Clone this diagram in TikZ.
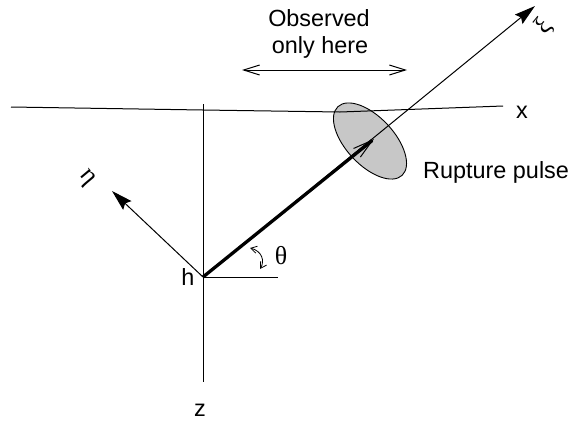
\documentclass[tikz,border=0pt]{standalone}
\usepackage{fontspec}
\setmainfont{Liberation Sans}
\newfontfamily\grk{Liberation Serif}
\usetikzlibrary{arrows.meta}
\tikzset{
  thinline/.style={line width=1bp, draw=black},
  axisarrow/.style={thinline, -{Stealth[length=21bp,width=12bp,inset=3bp]}},
  barbarrows/.style={thinline, {Straight Barb[length=16bp,width=10bp]}-{Straight Barb[length=16bp,width=10bp]}},
  label/.style={font=\fontsize{23.5}{28}\selectfont, inner sep=0pt},
  glabel/.style={font=\fontsize{26}{30}\grk\selectfont, inner sep=0pt},
  pulse/.style={draw=black, line width=0.9bp, fill=black!22},
}
\begin{document}
\begin{tikzpicture}[x=1bp,y=-1bp]
\useasboundingbox (0,0) rectangle (572,424);
% key points
\coordinate (h) at (203,277);
\coordinate (xitip) at (535,6);
\coordinate (etatip) at (112,191);
\coordinate (pulsetip) at (374,139);
\coordinate (ztop) at (203,104);
\coordinate (zbot) at (203,382);
\coordinate (thref) at (278,277);
\coordinate (sL) at (11,107);
\coordinate (sM1) at (203,110);
\coordinate (sM2) at (340,112);
\coordinate (sR) at (503,106);
\coordinate (obsL) at (242,70);
\coordinate (obsR) at (407,70);
\coordinate (thA) at (250,248);
\coordinate (thB) at (260,269);
\coordinate (ellc) at (370,141);
% rupture pulse ellipse
\path[pulse] (ellc) ellipse [x radius=47, y radius=24, rotate=-47];
% surface line
\draw[thinline] (sL) -- (sM1) -- (sM2) -- (sR);
% vertical z axis
\draw[thinline] (ztop) -- (zbot);
% horizontal reference from h
\draw[thinline] (h) -- (thref);
% xi axis
\draw[axisarrow] (h) -- (xitip);
% eta axis
\draw[axisarrow] (h) -- (etatip);
% thick rupture direction
\draw[line width=3.3bp, -{Straight Barb[length=20bp,width=11bp,line width=1bp]}] (h) -- (pulsetip);
% observed arrow
\draw[barbarrows] (obsL) -- (obsR);
% theta arc
\draw[line width=0.8bp, {Straight Barb[length=6bp,width=7bp]}-{Straight Barb[length=6bp,width=7bp]}]
  (thA) .. controls (262,251) and (265,261) .. (thB);
% labels
\node[glabel, rotate=50] (xi) at (544,27) {ξ};
\node[glabel, rotate=-50] (eta) at (86,179) {η};
\node[glabel] (theta) at (281,256) {θ};
\node[label, anchor=base] (hl) at (188,285) {h};
\node[label] (xl) at (522,112.5) {x};
\node[label] (zl) at (200,410) {z};
\node[label, anchor=base west] (rp) at (423,178.3) {Rupture pulse};
\node[label, anchor=base] (obs1) at (319,26.7) {Observed};
\node[label, anchor=base] (obs2) at (320,53.3) {only here};
\end{tikzpicture}
\end{document}
